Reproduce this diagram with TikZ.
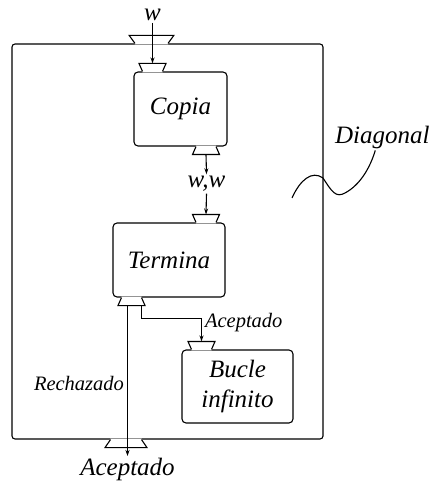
\documentclass[tikz,border=0pt]{standalone}
\usepackage{fontspec}
\setmainfont{Liberation Serif}
\usetikzlibrary{arrows.meta,positioning,calc}

\begin{document}
\begin{tikzpicture}[x=1pt,y=-1pt,line width=1.1pt,
  fr/.style={draw,rounded corners=3pt},
  mq/.style={draw,rounded corners=4pt,align=center,font=\fontsize{25}{30}\selectfont\itshape},
  tx/.style={inner sep=1.5pt,font=\fontsize{25}{28}\selectfont\itshape},
  sm/.style={inner sep=1.5pt,font=\fontsize{20.5}{23}\selectfont\itshape},
  a/.style={-{Stealth[length=6pt,width=4pt]}},
  pics/portup/.style={code={
    \fill[white](-#1,1)--(-#1*1.35,-8)--(#1*1.35,-8)--(#1,1)--cycle;
    \draw(-#1,0)--(-#1*1.35,-8)--(#1*1.35,-8)--(#1,0);}},
  pics/portdn/.style={code={
    \fill[white](-#1,-1)--(-#1*1.35,8)--(#1*1.35,8)--(#1,-1)--cycle;
    \draw(-#1,0)--(-#1*1.35,8)--(#1*1.35,8)--(#1,0);}}]
\useasboundingbox(0,0)rectangle(431,481);
% machines
\node[fr,minimum width=311pt,minimum height=395pt](frame) at (167.5,241.5){};
\node[mq,minimum width=93pt,minimum height=74pt](copia) at (180.5,109){Copia};
\node[mq,minimum width=112pt,minimum height=74pt](termina) at (169,260){Termina};
\node[mq,minimum width=111pt,minimum height=73pt](bucle) at (237.5,386.5){Bucle\\infinito};
% ports
\pic at ([xshift=-16pt]frame.north){portup=16.5};
\pic at ([xshift=-28pt]copia.north){portup=10};
\pic at ([xshift=25.5pt]copia.south){portdn=10};
\pic at ([xshift=37pt]termina.north){portup=10};
\pic at ([xshift=-37.5pt]termina.south){portdn=10};
\pic at ([xshift=-36pt]bucle.north){portup=10};
\pic at ([xshift=-41.5pt]frame.south){portdn=15.5};
\coordinate (cin) at ([xshift=-28pt,yshift=8pt]copia.north);
\coordinate (cout) at ([xshift=25.5pt,yshift=-8pt]copia.south);
\coordinate (tin) at ([xshift=37pt,yshift=8pt]termina.north);
\coordinate (tout) at ([xshift=-37.5pt,yshift=-8pt]termina.south);
\coordinate (bin) at ([xshift=-36pt,yshift=8pt]bucle.north);
% labels
\node[tx](w) at (152.5,15){w};
\node[tx](ww) at (206.5,184){w,w};
\node[tx,anchor=north](acep) at (127.5,456){Aceptado};
\node[sm,anchor=west](acok) at (203,323){Aceptado};
\node[sm,anchor=east](rech) at (126,383){Rechazado};
\node[tx,anchor=west](diag) at (333,137){Diagonal};
% connectors
\draw[a](w.south)--(cin);
\draw[a](cout)--(ww.north);
\draw[a](ww.south)--(tin);
\draw[a]([xshift=-4pt]tout)--(acep.north);
\draw[a]([xshift=10pt]tout)--++(0,13)-|(bin);
\coordinate (sq) at (292,198);
\draw(sq)..controls(300,180)and(312,170)..(323,178)..controls(332,192)and(336,198)..(345,193)..controls(360,185)and(370,168)..([xshift=-7pt]diag.south);
\end{tikzpicture}
\end{document}
